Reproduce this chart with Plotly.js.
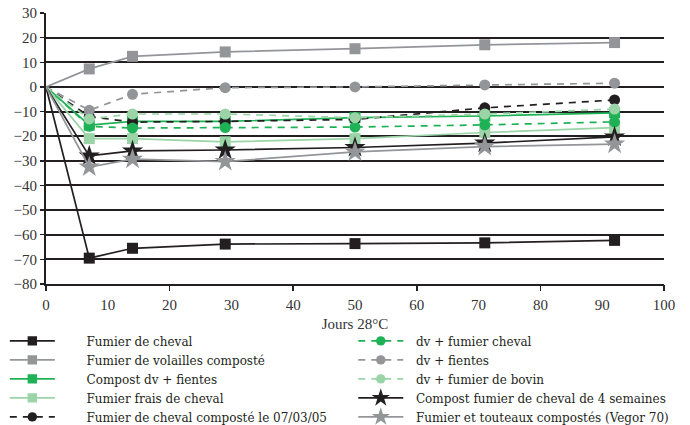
<!DOCTYPE html>
<html><head><meta charset="utf-8">
<script src="https://cdn.plot.ly/plotly-3.0.1.min.js"></script>
<style>body{margin:0;background:#fff}</style></head>
<body><div id="chart" style="width:690px;height:425px"></div>
<script>
const days = [0, 7, 14, 29, 50, 71, 92];
const fumierCheval = [0, -69.5, -65.5, -63.8, -63.6, -63.3, -62.3];
const volaillesComposte = [0, 7.3, 12.4, 14.2, 15.5, 17.1, 18];
const compostDvFientes = [0, -15.5, -14, -14, -12.5, -11.8, -10.5];
const fumierFraisCheval = [0, -21, -21, -22.3, -21, -18.5, -16.5];
const chevalComposte070305 = [0, -12, -14.3, -14, -13.2, -8.5, -5.3];
const dvFumierCheval = [0, -16, -16.7, -16.5, -16.3, -15.4, -14.2];
const dvFientes = [0, -9.5, -3, -0.3, 0, 0.8, 1.5];
const dvFumierBovin = [0, -13, -11, -11, -12.5, -11, -9];
const compostCheval4sem = [0, -28, -26, -25.6, -24.6, -22.8, -20.3];
const vegor70 = [0, -32.5, -29.3, -30.3, -26.4, -24.2, -23.2];
const xTickVals = [0, 20, 40, 60, 80, 100];

const BLACK = '#231f20', GREY = '#939598', GREEN = '#1fb155', LGREEN = '#9ad4a7';
const pad = '\u00a0\u00a0\u00a0\u00a0\u00a0\u00a0\u00a0';
const pad2 = '\u00a0\u00a0';
function sz(s){ return days.map((d,i)=> i===0 ? 0 : s); }
function tr(name, y, color, dash, symbol, size, legend){
  return {x: days, y: y, name: name, type:'scatter', mode:'lines+markers',
    line:{color: color, width: 1.7, dash: dash},
    marker:{color: color, symbol: symbol, size: sz(size), opacity: 1, line:{width: 0}},
    legend: legend};
}
const data = [
  tr(pad+'Fumier de cheval', fumierCheval, BLACK, 'solid', 'square', 11, 'legend'),
  tr(pad+'Fumier de volailles composté', volaillesComposte, GREY, 'solid', 'square', 11, 'legend'),
  tr(pad+'Compost dv + fientes', compostDvFientes, GREEN, 'solid', 'square', 11, 'legend'),
  tr(pad+'Fumier frais de cheval', fumierFraisCheval, LGREEN, 'solid', 'square', 11, 'legend'),
  tr(pad+'Fumier de cheval composté le 07/03/05', chevalComposte070305, BLACK, '7px,6px', 'circle', 11, 'legend'),
  tr(pad2+'dv + fumier cheval', dvFumierCheval, GREEN, '7px,6px', 'circle', 11, 'legend2'),
  tr(pad2+'dv + fientes', dvFientes, GREY, '7px,6px', 'circle', 11, 'legend2'),
  tr(pad2+'dv + fumier de bovin', dvFumierBovin, LGREEN, '7px,6px', 'circle', 11, 'legend2'),
  tr(pad2+'Compost fumier de cheval de 4 semaines', compostCheval4sem, BLACK, 'solid', 'star', 16, 'legend2'),
  tr(pad2+'Fumier et touteaux compostés (Vegor 70)', vegor70, GREY, 'solid', 'star', 16, 'legend2'),
  {x: [], y: [], xaxis: 'x2', showlegend: false, type: 'scatter', hoverinfo: 'skip'}
];
const legendCommon = {xref:'container', yref:'container', xanchor:'left', yanchor:'top', orientation:'v',
  itemwidth: 45, tracegroupgap: 0, bgcolor:'rgba(0,0,0,0)',
  font:{family:'DejaVu Serif, serif', size:12, color:'#231f20'}};
const layout = {
  width: 690, height: 425,
  margin: {l: 46, r: 26, t: 13, b: 141, autoexpand: false},
  paper_bgcolor: '#fff', plot_bgcolor: '#fff',
  font: {family: 'Liberation Serif, serif', size: 15, color: '#333'},
  showlegend: true,
  xaxis: {range: [0, 100], tick0: 0, dtick: 10, ticks: '', showgrid: false, zeroline: false,
    showline: true, linecolor: BLACK, linewidth: 2, fixedrange: true, automargin: false,
    ticklabelstandoff: 6,
    title: {text: 'Jours 28°C', font: {size: 15, color: '#333'}, standoff: 6}},
  xaxis2: {overlaying: 'x', anchor: 'y', side: 'bottom', range: [0, 100], tickvals: xTickVals,
    ticks: 'outside', ticklen: 6, tickwidth: 1.5, tickcolor: BLACK, showticklabels: false,
    showgrid: false, zeroline: false, showline: false, automargin: false},
  yaxis: {range: [-80, 30], tick0: 0, dtick: 10, showgrid: true, gridcolor: BLACK, gridwidth: 2,
    zeroline: false, showline: true, linecolor: BLACK, linewidth: 2, ticks: 'outside',
    ticklen: 4, tickcolor: BLACK, tickwidth: 1.5, automargin: false},
  legend: Object.assign({x: 0.007, y: 0.232}, legendCommon),
  legend2: Object.assign({x: 0.512, y: 0.232}, legendCommon)
};
Plotly.newPlot('chart', data, layout, {displayModeBar: false, staticPlot: true});
</script></body></html>
